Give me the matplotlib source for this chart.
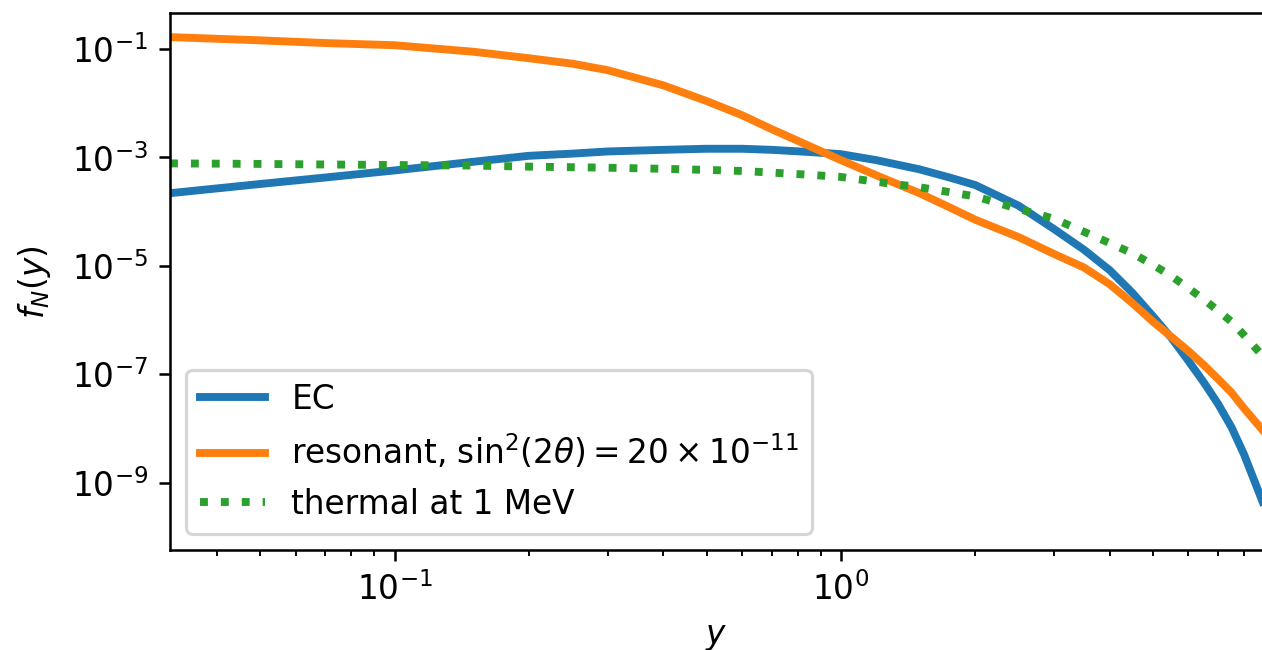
import numpy as np
import matplotlib
matplotlib.use("Agg")
import matplotlib.pyplot as plt
from matplotlib.ticker import NullLocator

plt.rcParams["font.size"] = 10.4

# values (x = y, values given as log10 f_N)
y_vals = [0.0314, 0.05, 0.07, 0.1, 0.15, 0.2, 0.25, 0.3, 0.4, 0.5, 0.6, 0.7, 0.85,
          1.0, 1.2, 1.5, 1.75, 2.0, 2.5, 3.0, 3.5, 4.0, 4.5, 5.0, 5.5, 6.0,
          6.5, 7.0, 7.5, 8.0, 8.8]
log_ec = [-3.66, -3.49, -3.37, -3.24, -3.08, -2.97, -2.93, -2.89, -2.86, -2.84, -2.84,
          -2.86, -2.90, -2.94, -3.05, -3.22, -3.37, -3.51, -3.89, -4.32, -4.70,
          -5.08, -5.50, -5.93, -6.33, -6.75, -7.15, -7.55, -7.98, -8.48, -9.35]
log_res = [-0.78, -0.84, -0.89, -0.93, -1.05, -1.17, -1.27, -1.39, -1.67, -1.96, -2.22,
           -2.48, -2.79, -3.05, -3.33, -3.66, -3.92, -4.15, -4.47, -4.78, -5.03,
           -5.34, -5.69, -6.03, -6.31, -6.57, -6.83, -7.09, -7.34, -7.63, -8.03]
log_th = [-3.11, -3.12, -3.13, -3.14, -3.15, -3.17, -3.18, -3.19, -3.21, -3.23, -3.25,
          -3.28, -3.32, -3.36, -3.45, -3.55, -3.64, -3.72, -3.95, -4.13, -4.37,
          -4.58, -4.77, -4.98, -5.19, -5.41, -5.62, -5.83, -6.03, -6.28, -6.66]

labels = ["EC",
          r"resonant, $\mathrm{sin}^2(2\theta) = 20 \times 10^{-11}$",
          "thermal at 1 MeV"]

dpi = 227
fig = plt.figure(figsize=(1262.3 / dpi, 650.3 / dpi), dpi=dpi)
ax = fig.add_axes([170 / 1262, 1 - 550 / 650, 1092 / 1262, 537 / 650])

y = np.array(y_vals)
ax.plot(y, 10 ** np.array(log_ec), lw=2.5, color="C0", label=labels[0])
ax.plot(y, 10 ** np.array(log_res), lw=2.5, color="C1", label=labels[1])
ax.plot(y, 10 ** np.array(log_th), lw=2.5, color="C2", ls=":", label=labels[2])

ax.set_xscale("log")
ax.set_yscale("log")
ax.set_xlim(0.0314, 8.79)
ax.set_ylim(10 ** -10.242, 10 ** -0.33)
ax.set_yticks([1e-1, 1e-3, 1e-5, 1e-7, 1e-9])
ax.yaxis.set_minor_locator(NullLocator())
ax.spines["right"].set_visible(False)

ax.set_xlabel("$y$")
ax.set_ylabel("$f_N(y)$", labelpad=6)
ax.legend(loc="lower left")

fig.savefig("out.png", dpi=dpi)
